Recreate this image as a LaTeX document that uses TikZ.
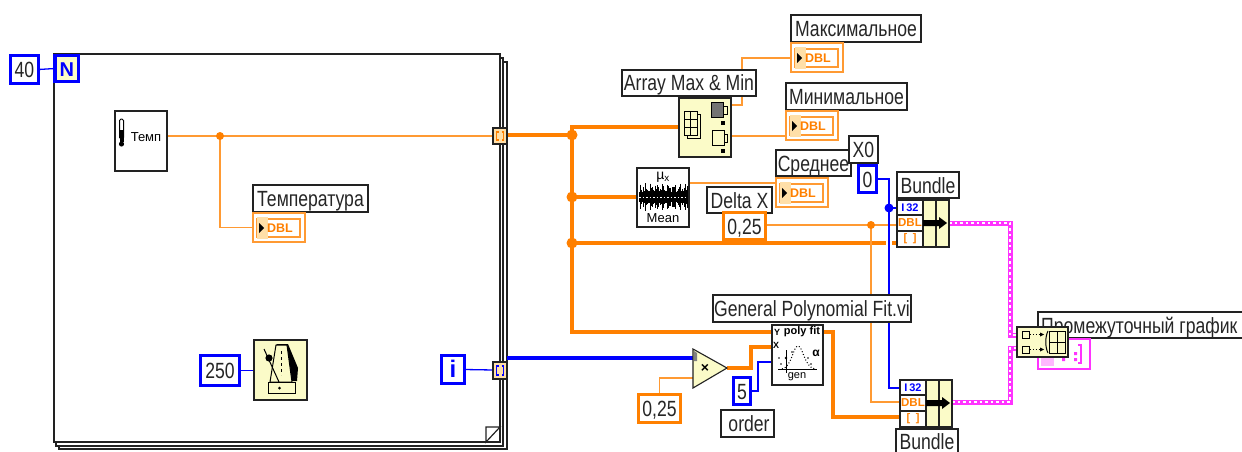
\documentclass[tikz,border=0pt]{standalone}
\usepackage{fontspec}
\setmainfont{Liberation Sans}
\newfontfamily\lvfont{Liberation Sans}[FakeStretch=0.8]
\pgfdeclarelayer{backdrop}
\pgfdeclarelayer{wires}
\pgfsetlayers{backdrop,wires,main}
\definecolor{lvorange}{HTML}{FF8000}
\definecolor{lvthin}{HTML}{FF9A33}
\definecolor{lvblue}{HTML}{0000FF}
\definecolor{lvyellow}{HTML}{FBFBC8}
\definecolor{lvpink}{HTML}{FF33FF}
\definecolor{lvedge}{HTML}{222222}
\definecolor{lvtan}{HTML}{FFDFA8}
\tikzset{
 lvtext/.style={font=\lvfont\fontsize{22}{22}\selectfont,text=black!85,text height=16pt,text depth=0pt},
 lbl/.style={draw=lvedge,fill=white,line width=1.1pt,inner sep=0pt,outer sep=0pt,lvtext},
 ctlb/.style={draw=lvblue,fill=white,line width=3.2pt,inner sep=0pt,outer sep=0pt,lvtext},
 ctlo/.style={draw=lvorange,fill=white,line width=3.2pt,inner sep=0pt,outer sep=0pt,lvtext},
 fnw/.style={draw=lvedge,fill=white,line width=1.1pt,inner sep=0pt,outer sep=0pt},
 fny/.style={draw=lvedge,fill=lvyellow,line width=1.1pt,inner sep=0pt,outer sep=0pt},
 thinO/.style={draw=lvthin,line width=1.4pt},
 thickO/.style={draw=lvorange,line width=3.8pt},
 midO/.style={draw=lvorange,line width=3.2pt},
 thinB/.style={draw=lvblue,line width=1.3pt},
 thickB/.style={draw=lvblue,line width=3.4pt},
 pinkW/.style={draw=lvpink,line width=5pt},
 pinkD/.style={draw=white,line width=1.4pt,dash pattern=on 2.5pt off 3pt},
 tiny/.style={inner sep=0pt,font=\fontsize{9}{9}\bfseries\selectfont},
}
% style, name, x1,y1,x2,y2, text
\newcommand{\lvbox}[7]{\node[#1,minimum width={(#5-#3)*1pt},minimum height={(#6-#4)*1pt}] (#2) at ({(#3+#5)/2},{(#4+#6)/2}) {#7};}
% name, x, y of the top-left corner
\newcommand{\lvdbl}[3]{\begin{scope}[shift={(#2,#3)}]
 \node[draw=lvthin,fill=white,line width=1.3pt,minimum width=52pt,minimum height=29pt,inner sep=0pt,outer sep=0pt] (#1) at (26,14.5) {};
 \draw[lvthin,line width=1.3pt] (4,6) rectangle (47,24);
 \fill[lvtan] (4,4) rectangle (15,26);
 \fill[black] (6,10) -- (11,15) -- (6,20) -- cycle;
 \node[tiny,text=lvorange,font=\fontsize{12.5}{12}\bfseries\selectfont] (#1txt) at (27,15) {DBL};
 \end{scope}}
% name, x1,y1,x2,y2, colour
\newcommand{\lvtunnel}[6]{\lvbox{fny,fill=lvtan}{#1}{#2}{#3}{#4}{#5}{}
 \draw[#6,line width=1.3pt] ({#2+5.5},{#3+4}) -- ({#2+3.5},{#3+4}) -- ({#2+3.5},{#5-4}) -- ({#2+5.5},{#5-4})
   ({#4-5.5},{#3+4}) -- ({#4-3.5},{#3+4}) -- ({#4-3.5},{#5-4}) -- ({#4-5.5},{#5-4});}
% name, x, y of the top-left corner
\newcommand{\lvbundle}[3]{\begin{scope}[shift={(#2,#3)}]
 \node[fny,minimum width=52pt,minimum height=47pt] (#1) at (26,23.5) {};
 \draw[draw=lvedge,line width=1.1pt,fill=white] (0,0) rectangle (26,47);
 \draw[draw=lvedge,line width=1.1pt] (0,15) -- (26,15) (0,31) -- (26,31) (39,0) -- (39,47);
 \node[tiny,text=lvblue,font=\fontsize{11}{11}\bfseries\selectfont] (#1a) at (13,7.7) {I\,32};
 \node[tiny,text=lvorange,font=\fontsize{11.5}{11}\bfseries\selectfont] (#1b) at (13,23) {DBL};
 \node[tiny,text=lvorange,font=\fontsize{11}{11}\bfseries\selectfont] (#1c) at (13,39) {[\,\,\,]};
 \fill[black] (26,20) -- (42,20) -- (42,17) -- (50,23) -- (42,29) -- (42,26) -- (26,26) -- cycle;
 \end{scope}}
\begin{document}
\begin{tikzpicture}[x=1pt,y=-1pt]
\useasboundingbox (0,0) rectangle (1242,452);
\begin{pgfonlayer}{backdrop}
\fill[white] (0,0) rectangle (1242,452);
% loop frame: three stacked sheets
\draw[lvedge,line width=1.3pt,fill=white] (59,62) rectangle (507,449);
\draw[lvedge,line width=1.3pt,fill=white] (56,58) rectangle (503,446);
\draw[lvedge,line width=1.3pt,fill=white] (54,54) rectangle (500,442);
\draw[lvedge,line width=1.2pt,fill=white] (486,442) -- (486,427) -- (500,427) -- cycle;
\end{pgfonlayer}

% constants and terminals
\lvbox{ctlb}{n40}{10.5}{55.5}{38.5}{83.5}{40}
\lvbox{ctlb,fill=lvyellow,text=lvblue,font=\fontsize{20}{20}\bfseries\selectfont}{nN}{55}{55.5}{78.5}{81.5}{N}
\lvbox{ctlb}{n250}{200.5}{355.5}{239.5}{385.5}{250}
\lvbox{ctlb,text=lvblue,font=\fontsize{24}{24}\bfseries\selectfont}{ni}{441.5}{355.5}{464.5}{383.5}{i}

% temperature sub-VI
\lvbox{fnw}{temp}{115}{111}{167}{171}{}
\draw[black,line width=1pt,rounded corners=1.5pt] (119.5,119) rectangle (123.5,139);
\fill[black] (119.5,130) rectangle (123.5,142);
\fill[black] (121.5,144) circle (2.6pt);
\node[tiny,font=\fontsize{13}{13}\selectfont,text=black] (temptxt) at (146,137) {Темп};

\lvbox{lbl}{ltemp}{253}{185}{368}{212}{Температура}
\lvdbl{dtemp}{253}{213}

% metronome
\lvbox{fny}{metro}{254}{340}{307}{400}{}
\fill[black] (276,344) -- (288,344) -- (298,368) -- (297,381) -- (291,381) -- (283,350) -- cycle;
\draw[black,line width=1pt,fill=lvyellow] (276,345) -- (287,345) -- (292,382) -- (270,382) -- cycle;
\draw[black,line width=1pt,dashed] (281,351) -- (281,375);
\draw[black,line width=1pt] (264,349) -- (279,382);
\fill[black] (269,358) circle (3.6pt);
\draw[black,line width=1pt] (268,382) rectangle (295,393);
\fill[black] (279.5,388) circle (1.5pt);

% tunnels
\lvtunnel{tun1}{493}{128}{507}{144}{lvorange}
\lvtunnel{tun2}{493}{362}{507}{379}{lvblue}

% array max and min
\lvbox{lbl}{larr}{622}{70}{756}{96}{Array Max \& Min}
\lvbox{fny}{arr}{679}{98}{731}{157}{}
\draw[black,line width=1pt] (684,111) rectangle (697,135);
\draw[black,line width=1pt] (684,119) -- (697,119) (684,127) -- (697,127) (690.5,111) -- (690.5,135);
\draw[black,line width=1pt] (697,114) -- (700,114) -- (700,138) -- (687,138) -- (687,135);
\fill[black!55] (711,102) rectangle (723,117);
\draw[black,line width=1pt] (711,102) rectangle (723,117) (723,106) -- (727,106) -- (727,114) -- (723,114);
\fill[black] (721,121) rectangle (725,125);
\draw[black,line width=1pt] (712,130) rectangle (724,145) (724,134) -- (727,134) -- (727,142) -- (724,142);
\fill[black] (721,149) rectangle (725,153);

\lvbox{lbl}{lmax}{791}{15}{921}{42}{Максимальное}
\lvdbl{dmax}{791}{43}
\lvbox{lbl}{lmin}{786}{83}{907}{110}{Минимальное}
\lvdbl{dmin}{786}{111}

% mean
\lvbox{fnw}{mean}{637}{168}{689}{227}{}
\foreach \k in {0,...,48}{
 \pgfmathsetmacro{\hh}{5+9*abs(sin(\k*73))*abs(cos(\k*31))}
 \draw[black,line width=1pt] ({639+\k},{197-\hh}) -- ({639+\k},{197+\hh});
}
\draw[white,line width=1pt,dash pattern=on 1.5pt off 2pt] (639,197) -- (687,197);
\node[inner sep=0pt,font=\fontsize{14}{14}\selectfont,text=black] (meanmu) at (663,177) {µ\textsubscript{x}};
\node[inner sep=0pt,font=\fontsize{13}{13}\selectfont,text=black] (meantxt) at (663,218.5) {Mean};

\lvbox{lbl}{ldelta}{707}{187}{772}{213}{Delta X}
\lvbox{ctlo}{n025}{723.5}{212.5}{765.5}{239.5}{0,25}
\lvbox{lbl}{lavg}{776}{150}{851}{176}{Среднее}
\lvdbl{davg}{776}{178}
\lvbox{lbl}{lx0}{849}{136}{878}{163}{X0}
\lvbox{ctlb}{n0}{858.5}{165.5}{876.5}{192.5}{0}

% bundles
\lvbox{lbl}{lb1}{897}{172}{959}{198}{Bundle}
\lvbundle{b1}{897}{200}
\lvbox{lbl}{lb2}{896}{429}{958}{453}{Bundle}
\lvbundle{b2}{900}{380}

% polynomial fit
\lvbox{lbl}{lpoly}{713}{295}{911}{322}{General Polynomial Fit.vi}
\lvbox{fnw}{poly}{772}{325}{823}{385}{}
\node[tiny,text=black] (polyY) at (777,332) {Y};
\node[tiny,text=black,font=\fontsize{11}{11}\bfseries\selectfont] (polyT) at (802,332) {poly fit};
\node[tiny,text=black] (polyX) at (776,345) {X};
\node[tiny,text=black,font=\fontsize{12}{12}\bfseries\selectfont] (polyA) at (816,353) {α};
\node[tiny,text=black,font=\fontsize{11}{11}\selectfont] (polyG) at (797,377) {gen};
\draw[black,line width=0.9pt] (778,369) -- (817,369) (786,350) -- (786,373);
\draw[black,line width=1pt,dotted] (782,369) .. controls (792,367) and (793,346) .. (798,346) .. controls (803,346) and (804,367) .. (815,369);
\fill[black] (779,358) circle (0.8pt) (792,352) circle (0.8pt) (808,358) circle (0.8pt) (781,364) circle (0.8pt) (811,364) circle (0.8pt) (786,358) circle (1.4pt);

% multiply
\coordinate (mA) at (693,349);
\coordinate (mB) at (727,368);
\coordinate (mC) at (693,388);
\draw[draw=lvedge,fill=lvyellow,line width=1.1pt] (mA) -- (mB) -- (mC) -- cycle;
\fill[black!50] (694,351) -- (697,353) -- (697,361) -- (694,361) -- cycle;
\node[inner sep=0pt,font=\fontsize{14}{14}\bfseries\selectfont,text=black] (mX) at (705,368) {×};
\lvbox{ctlo}{n025b}{638.5}{394.5}{680.5}{422.5}{0,25}
\lvbox{ctlb}{n5}{733.5}{377.5}{750.5}{404.5}{5}
\lvbox{lbl}{lorder}{721}{410}{774}{437}{\hspace{3pt}order}

% graph indicator and build array
\lvbox{lbl}{lgraph}{1038}{312}{1250}{338}{}
\node[lvtext,inner sep=0pt,anchor=west] (lgraphtxt) at (1041,325) {Промежуточный график};
\node[draw=lvpink,fill=white,line width=1.2pt,minimum width=52pt,minimum height=30pt,inner sep=0pt,outer sep=0pt] (graph) at (1064,354) {};
\fill[lvpink!35] (1041,357) rectangle (1054,366);
\draw[lvpink,line width=1.2pt] (1078,345) -- (1081,345) -- (1081,363) -- (1078,363);
\fill[lvpink] (1062,358) rectangle (1065,361) (1074,352) rectangle (1077,355) (1074,358) rectangle (1077,361);
\lvbox{fny}{build}{1017}{327}{1068}{357}{}
\draw[black,line width=1pt] (1022,331) rectangle (1029,338) (1022,346) rectangle (1029,353);
\draw[black,line width=0.9pt,dotted] (1030,334.5) -- (1041,334.5) (1030,349.5) -- (1041,349.5);
\fill[black] (1040,332.5) -- (1044,334.5) -- (1040,336.5) -- cycle (1040,347.5) -- (1044,349.5) -- (1040,351.5) -- cycle;
\draw[black,line width=1pt] (1049,331) rectangle (1065,353) (1057,331) -- (1057,353) (1049,342) -- (1065,342);
\draw[black,line width=1pt] (1048,331) .. controls (1045,337) and (1045,347) .. (1048,353);

% ---------- connectors ----------
\coordinate (tempOut) at (167,136);
\coordinate (j1) at (220,136);
\coordinate (t1in) at (493,136);
\coordinate (t1out) at (507,135);
\coordinate (j2) at (572,135);
\coordinate (j3) at (572,197);
\coordinate (j4) at (572,243);
\coordinate (topBend) at (572,127);
\coordinate (botBend) at (572,332);
\coordinate (arrIn) at (679,127);
\coordinate (meanIn) at (637,197);
\coordinate (polyInY) at (772,332);
\coordinate (polyInX) at (772,347);
\coordinate (polyInO) at (772,362);
\coordinate (polyOut) at (823,332);
\coordinate (polyDown) at (833,332);
\coordinate (b2c) at (900,417);
\coordinate (b2d) at (900,402);
\coordinate (b2i) at (900,388);
\coordinate (b1d) at (897,225);
\coordinate (b1i) at (897,208);
\coordinate (b1c) at (897,243);
\coordinate (gapL) at (886,243);
\coordinate (gapR) at (892,243);
\coordinate (j5) at (871,225);
\coordinate (j6) at (889,208);
\coordinate (n0out) at (878,179);
\coordinate (arrTop) at (731,105);
\coordinate (maxIn) at (791,58);
\coordinate (arrBot) at (731,136);
\coordinate (minIn) at (786,136);
\coordinate (meanOut) at (689,183);
\coordinate (avgIn) at (776,183);
\coordinate (bend1) at (742,105);
\coordinate (dIn) at (767,225);
\coordinate (multIn1) at (693,358);
\coordinate (multIn2) at (693,378);
\coordinate (t2in) at (493,370);
\coordinate (t2out) at (507,358);
\coordinate (n5out) at (752,391);
\coordinate (bOut1) at (949,223);
\coordinate (bOut2) at (952,402);
\coordinate (buildIn1) at (1017,335);
\coordinate (buildIn2) at (1017,348);
\coordinate (mid1) at (1010,223);
\coordinate (mid2) at (1010,402);

\begin{pgfonlayer}{wires}
\draw[thinB] (n40.east) -- (nN.west);
\draw[thinB] (n250.east) -- (metro.west |- n250.east);
\draw[thinB] (ni.east) -- (t2in);
\draw[thinO] (tempOut) -- (t1in);
\draw[thinO] (j1) |- (dtemp.west);
\draw[thickO] (t1out) -- (j2);
\draw[thickO] (arrIn) -- (topBend) -- (botBend) -- (polyInY);
\draw[thickO] (j3) -- (meanIn);
\draw[thickO] (j4) -- (gapL);
\draw[thickO] (gapR) -- (b1c);
\draw[thickO] (polyOut) -- (polyDown) |- (b2c);
\draw[thinO] (arrTop) -- (bend1) |- (maxIn);
\draw[thinO] (arrBot) -- (minIn);
\draw[thinO] (meanOut) -- (avgIn);
\draw[thinO] (dIn) -- (b1d);
\draw[thinO] (j5) |- (b2d);
\draw[thinB] (n0out) -| (j6) |- (b2i);
\draw[thinB] (j6) -- (b1i);
\draw[thickB] (t2out) -- (multIn1);
\draw[thinO] (multIn2) -| (n025b.north);
\draw[midO] (mB) -- (751,368) |- (polyInX);
\draw[thinB] (n5out) -- (758,391) |- (polyInO);
\draw[pinkW] (bOut1) -- (mid1) |- (buildIn1);
\draw[pinkD] (bOut1) -- (mid1) |- (buildIn1);
\draw[pinkW] (bOut2) -- (mid2) |- (buildIn2);
\draw[pinkD] (bOut2) -- (mid2) |- (buildIn2);
\fill[lvorange] (j1) circle (4pt);
\foreach \p in {j2,j3,j4}{\fill[lvorange] (\p) circle (5.5pt);}
\fill[lvorange] (j5) circle (4pt);
\fill[lvblue] (j6) circle (4.5pt);
\end{pgfonlayer}
\end{tikzpicture}
\end{document}
